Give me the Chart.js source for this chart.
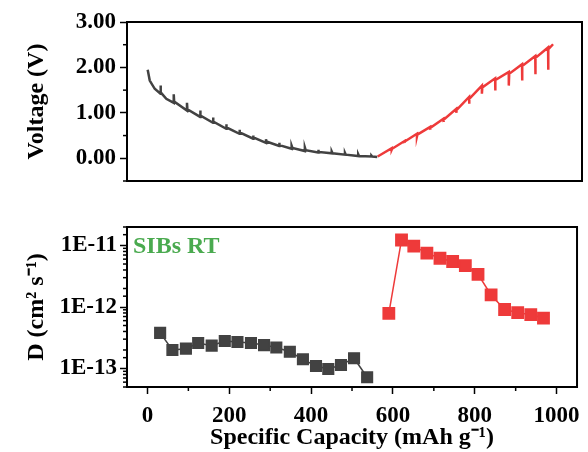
<!DOCTYPE html>
<html>
<head>
<meta charset="utf-8">
<script src="https://cdn.jsdelivr.net/npm/chart.js@4.4.1/dist/chart.umd.min.js"></script>
<style>
  body { margin: 0; background: #fff; }
  #wrap { position: relative; width: 588px; height: 452px; }
  canvas { position: absolute; left: 0; }
</style>
</head>
<body>
<div id="wrap">
  <canvas id="voltage" width="588" height="200" style="top:0"></canvas>
  <canvas id="diffusion" width="588" height="252" style="top:200px"></canvas>
</div>
<script>
// GITT curve, discharge (grey) and charge (red)
var dischargeCap = [0, 5, 17, 31, 31, 32, 45, 63, 63, 64, 95, 95, 96, 127, 127, 128, 158, 158, 159,
    190, 190, 191, 222, 222, 223, 255, 255, 256, 286, 286, 287, 318, 318, 319, 348, 348, 350,
    380, 380, 382, 412, 412, 414, 445, 445, 447, 477, 477, 479, 509, 509, 511, 541, 541, 543, 555];
var dischargeV = [1.95, 1.71, 1.53, 1.42, 1.60, 1.45, 1.31, 1.22, 1.41, 1.25, 1.05, 1.22, 1.08, 0.91, 1.05, 0.94, 0.78, 0.90, 0.81,
    0.65, 0.75, 0.68, 0.54, 0.63, 0.57, 0.43, 0.50, 0.46, 0.34, 0.42, 0.37, 0.27, 0.34, 0.29, 0.21, 0.28, 0.23,
    0.16, 0.24, 0.18, 0.13, 0.19, 0.14, 0.11, 0.15, 0.11, 0.08, 0.12, 0.08, 0.05, 0.09, 0.05, 0.04, 0.06, 0.04, 0.03];

var chargeCap = [556, 590, 590, 591, 621, 621, 622, 651, 651, 652, 683, 683, 684, 715, 715, 716,
    746, 746, 747, 777, 777, 778, 808, 808, 809, 840, 840, 841, 873, 873, 874, 905, 905, 906,
    937, 937, 938, 968, 968, 969, 980];
var chargeV = [0.04, 0.22, 0.19, 0.21, 0.38, 0.34, 0.37, 0.54, 0.48, 0.52, 0.69, 0.63, 0.67, 0.87, 0.80, 0.85,
    1.09, 1.00, 1.06, 1.35, 1.20, 1.31, 1.60, 1.42, 1.56, 1.76, 1.49, 1.72, 1.90, 1.60, 1.86, 2.07, 1.71, 2.03,
    2.25, 1.85, 2.21, 2.44, 1.95, 2.40, 2.51];

// diffusion coefficients
var dischCapD = [31, 61, 94, 124, 157, 189, 220, 253, 285, 315, 348, 380, 412, 442, 473, 505, 537];
var dischD = [3.8e-13, 2.0e-13, 2.1e-13, 2.6e-13, 2.35e-13, 2.8e-13, 2.7e-13, 2.6e-13, 2.4e-13,
    2.2e-13, 1.87e-13, 1.41e-13, 1.1e-13, 9.8e-14, 1.14e-13, 1.47e-13, 7.2e-14];
var chargeCapD = [590, 621, 651, 683, 715, 746, 777, 808, 840, 873, 905, 937, 968];
var chargeD = [7.9e-13, 1.23e-11, 9.8e-12, 7.5e-12, 6.2e-12, 5.5e-12, 4.7e-12, 3.4e-12,
    1.57e-12, 9.1e-13, 8.1e-13, 7.5e-13, 6.6e-13];

var xTicks = [0, 100, 200, 300, 400, 500, 600, 700, 800, 900, 1000];
var vTicks = [-0.5, 0, 0.5, 1, 1.5, 2, 2.5, 3];

var GREY = '#424242';
var RED = '#ee3a3a';
var FONT = 'Liberation Serif';

function xy(xs, ys) {
    return xs.map(function (x, i) { return {x: x, y: ys[i]}; });
}

function isMajorLog(v) {
    var e = Math.log10(v);
    return Math.abs(e - Math.round(e)) < 1e-6;
}
function isMajorV(v) { return Number.isInteger(v); }
function isMajorX(v) { return v % 200 === 0; }

// which ticks are major, per canvas and axis (kept out of the options, Chart.js would call them)
var majorTest = {
    voltage: {y: isMajorV},
    diffusion: {x: isMajorX, y: isMajorLog}
};

// frame around plot area + short minor ticks + inside label
var framePlugin = {
    id: 'frame',
    afterDraw: function (chart) {
        var a = chart.chartArea, ctx = chart.ctx;
        var tests = majorTest[chart.canvas.id] || {};
        ctx.save();
        ctx.strokeStyle = '#000';
        ctx.lineWidth = 2;
        ctx.strokeRect(a.left, a.top, a.right - a.left, a.bottom - a.top);
        ctx.lineWidth = 1.5;
        Object.keys(tests).forEach(function (id) {
            var s = chart.scales[id];
            s.ticks.forEach(function (t) {
                if (tests[id](t.value)) return;
                var p = s.getPixelForValue(t.value);
                ctx.beginPath();
                if (s.isHorizontal()) { ctx.moveTo(p, a.bottom); ctx.lineTo(p, a.bottom + 4); }
                else { ctx.moveTo(a.left, p); ctx.lineTo(a.left - 4, p); }
                ctx.stroke();
            });
        });
        if (chart.canvas.id === 'diffusion') {
            ctx.fillStyle = '#4aaa4f';
            ctx.font = 'bold 24px ' + FONT;
            ctx.textBaseline = 'middle';
            ctx.fillText('SIBs RT', a.left + 6, a.top + 20);
        }
        ctx.restore();
    }
};

var tickFont = {family: FONT, size: 23, weight: 'bold'};
var titleFont = {family: FONT, size: 24, weight: 'bold'};

function tickColor(test) {
    return function (c) { return test(c.tick.value) ? '#000' : 'rgba(0,0,0,0)'; };
}

new Chart(document.getElementById('voltage'), {
    type: 'scatter',
    data: {
        datasets: [
            {data: xy(dischargeCap, dischargeV), showLine: true, borderColor: GREY, borderWidth: 2.5, pointRadius: 0},
            {data: xy(chargeCap, chargeV), showLine: true, borderColor: RED, borderWidth: 2.5, pointRadius: 0}
        ]
    },
    options: {
        responsive: false,
        animation: false,
        layout: {padding: {left: 22, top: 22, right: 6, bottom: 19}},
        plugins: {legend: {display: false}, tooltip: {enabled: false}},
        scales: {
            x: {type: 'linear', min: -50, max: 1050, display: false},
            y: {
                min: -0.5, max: 3,
                afterFit: function (s) { s.width = 105; },
                afterBuildTicks: function (s) { s.ticks = vTicks.map(function (v) { return {value: v}; }); },
                border: {display: true, color: '#000', width: 2},
                grid: {drawOnChartArea: false, tickLength: 7, tickWidth: 1.5, tickColor: tickColor(isMajorV)},
                ticks: {font: tickFont, color: '#000', padding: 4, autoSkip: false,
                    callback: function (v) { return isMajorV(v) ? v.toFixed(2) : ''; }},
                title: {display: true, text: 'Voltage (V)', font: titleFont, color: '#000', padding: 0}
            }
        }
    },
    plugins: [framePlugin]
});

new Chart(document.getElementById('diffusion'), {
    type: 'scatter',
    data: {
        datasets: [
            {data: xy(dischCapD, dischD), showLine: true, borderColor: GREY, backgroundColor: GREY, borderWidth: 1.5,
                pointStyle: 'rect', pointRadius: 7.5},
            {data: xy(chargeCapD, chargeD), showLine: true, borderColor: RED, backgroundColor: RED, borderWidth: 1.5,
                pointStyle: 'rect', pointRadius: 8}
        ]
    },
    options: {
        responsive: false,
        animation: false,
        layout: {padding: {left: 22, top: 27, right: 6, bottom: 0}},
        plugins: {legend: {display: false}, tooltip: {enabled: false}},
        scales: {
            x: {
                type: 'linear', min: -50, max: 1050,
                afterFit: function (s) { s.height = 65; },
                afterBuildTicks: function (s) { s.ticks = xTicks.map(function (v) { return {value: v}; }); },
                border: {display: true, color: '#000', width: 2},
                grid: {drawOnChartArea: false, tickLength: 7, tickWidth: 1.5, tickColor: tickColor(isMajorX)},
                ticks: {font: tickFont, color: '#000', padding: 8, maxRotation: 0, autoSkip: false,
                    callback: function (v) { return isMajorX(v) ? v : ''; }},
                title: {display: true, text: 'Specific Capacity (mAh g\u207B\u00B9)', font: titleFont, color: '#000', padding: 0}
            },
            y: {
                type: 'logarithmic', min: 5e-14, max: 2e-11,
                afterFit: function (s) { s.width = 105; },
                border: {display: true, color: '#000', width: 2},
                grid: {drawOnChartArea: false, tickLength: 7, tickWidth: 1.5, tickColor: tickColor(isMajorLog)},
                ticks: {font: tickFont, color: '#000', padding: 3, autoSkip: false,
                    callback: function (v) { return isMajorLog(v) ? '1E' + Math.round(Math.log10(v)) : ''; }},
                title: {display: true, text: 'D (cm\u00B2 s\u207B\u00B9)', font: titleFont, color: '#000', padding: 0}
            }
        }
    },
    plugins: [framePlugin]
});
</script>
</body>
</html>
